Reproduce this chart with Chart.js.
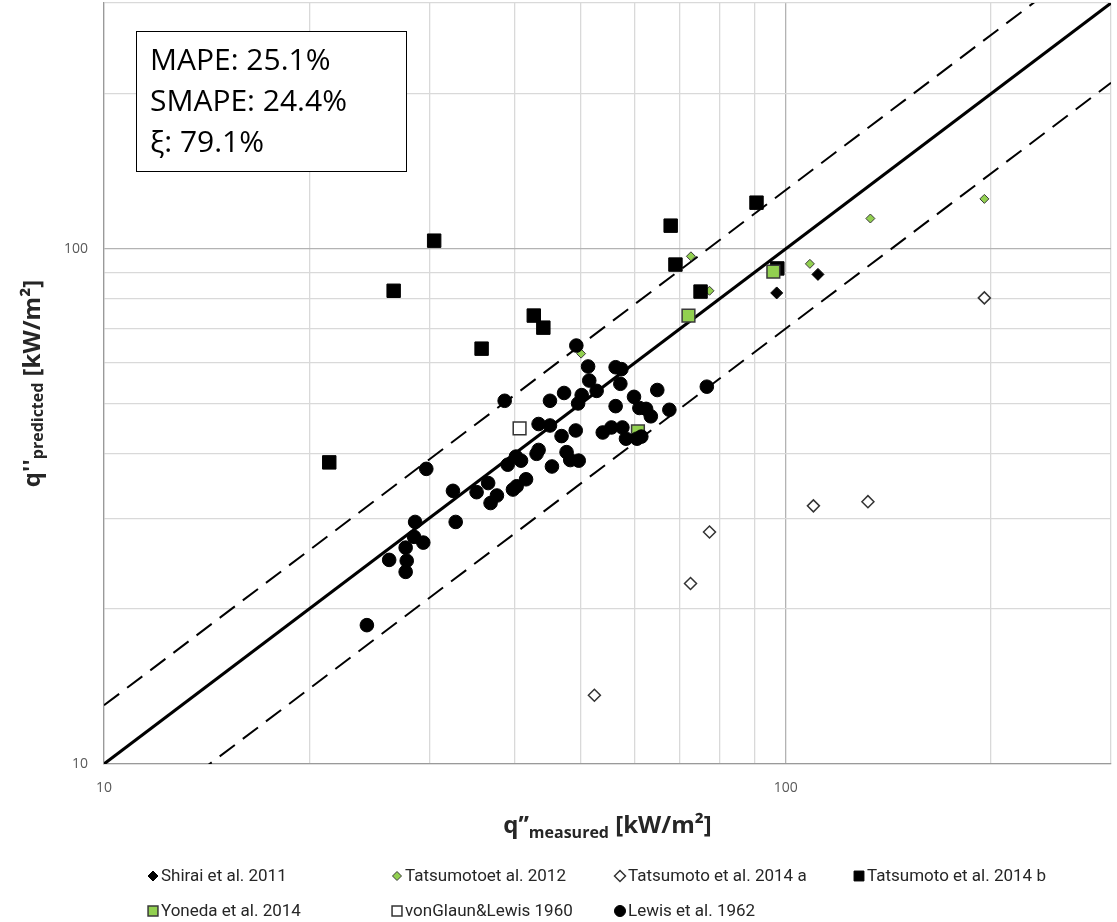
<!DOCTYPE html>
<html>
<head>
<meta charset="utf-8">
<script src="https://cdn.jsdelivr.net/npm/chart.js@4.4.0/dist/chart.umd.min.js"></script>
<style>
  html, body { margin: 0; padding: 0; background: #fff; }
  #wrap { width: 1117px; height: 922px; }
</style>
</head>
<body>
<div id="wrap"><canvas id="chart" width="1117" height="922"></canvas></div>
<script>
// measured vs predicted heat flux, kW/m2
const shiraiX = [97.0, 111.5];
const shiraiY = [82.1, 89.2];

const tats2012X = [50.1, 72.6, 77.3, 108.5, 133.1, 195.6];
const tats2012Y = [62.6, 96.7, 82.9, 93.5, 114.5, 125.0];

const tats2014aX = [52.4, 72.5, 77.3, 109.8, 132.0, 195.6];
const tats2014aY = [13.6, 22.4, 28.2, 31.7, 32.3, 80.3];

const tats2014bX = [21.4, 26.6, 30.5, 35.8, 42.7, 44.1, 67.8, 68.9, 75.0, 90.6, 97.2];
const tats2014bY = [38.5, 82.9, 103.7, 64.0, 74.2, 70.3, 110.9, 93.2, 82.6, 122.9, 91.6];

const yonedaX = [60.7, 72.0, 95.9];
const yonedaY = [44.2, 74.2, 90.3];

const vonGlaunX = [40.7];
const vonGlaunY = [44.8];

const lewisX = [49.3, 51.3, 56.3, 57.4, 51.5, 57.2, 47.3, 52.8, 64.8, 45.1,
  50.2, 49.6, 38.7, 59.9, 56.3, 61.0, 62.4, 63.4, 67.5, 76.6,
  43.4, 45.1, 46.9, 49.2, 53.9, 55.5, 57.6, 58.3, 60.5, 61.4,
  40.2, 40.9, 39.1, 43.1, 43.4, 45.4, 47.7, 48.3, 49.7,
  29.7, 32.5, 35.2, 36.6, 37.7, 36.9, 39.8, 40.3, 41.6,
  28.6, 32.8, 28.5, 29.4, 27.7, 26.2, 27.8, 27.7, 24.3];
const lewisY = [64.9, 59.1, 58.9, 58.4, 55.5, 54.7, 52.5, 53.0, 53.2, 50.7,
  52.0, 50.1, 50.7, 51.6, 49.5, 49.1, 48.9, 47.3, 48.7, 54.0,
  45.7, 45.4, 43.3, 44.4, 44.0, 45.0, 45.0, 42.8, 42.8, 43.2,
  39.5, 38.8, 38.1, 40.0, 40.7, 37.8, 40.3, 38.9, 38.8,
  37.4, 33.9, 33.7, 35.1, 33.2, 32.1, 34.1, 34.6, 35.7,
  29.5, 29.5, 27.6, 26.9, 26.3, 24.9, 24.8, 23.6, 18.6];

// perfect agreement line and +/-30% band
const diagonalX = [10, 300];
const bandFactors = [1.3, 0.7];

const tickValues = [10, 20, 30, 40, 50, 60, 70, 80, 90, 100, 200, 300];
const tickLabels = { 10: '10', 100: '100' };

const statLines = ['MAPE: 25.1%', 'SMAPE: 24.4%', 'ξ: 79.1%'];

const pts = (xs, ys) => xs.map((x, i) => ({ x: x, y: ys[i] }));

const datasets = [
  { label: 'Shirai et al. 2011', data: pts(shiraiX, shiraiY), pointStyle: 'rectRot', pointRadius: 6,
    backgroundColor: '#000', borderColor: '#000', borderWidth: 1, order: 7, legendRadius: 5 },
  { label: 'Tatsumotoet al. 2012', data: pts(tats2012X, tats2012Y), pointStyle: 'rectRot', pointRadius: 4.5,
    backgroundColor: '#92d050', borderColor: '#3a3a3a', borderWidth: 1, order: 6, legendRadius: 4.5 },
  { label: 'Tatsumoto et al. 2014 a', data: pts(tats2014aX, tats2014aY), pointStyle: 'rectRot', pointRadius: 6,
    backgroundColor: '#fff', borderColor: '#333', borderWidth: 1.5, order: 5, legendRadius: 5.5 },
  { label: 'Tatsumoto et al. 2014 b', data: pts(tats2014bX, tats2014bY), pointStyle: 'rect', pointRadius: 9.5,
    backgroundColor: '#000', borderColor: '#000', borderWidth: 1, order: 4, legendRadius: 7 },
  { label: 'Yoneda et al. 2014', data: pts(yonedaX, yonedaY), pointStyle: 'rect', pointRadius: 9,
    backgroundColor: '#92d050', borderColor: '#3a3a3a', borderWidth: 1.5, order: 3, legendRadius: 7 },
  { label: 'vonGlaun&Lewis 1960', data: pts(vonGlaunX, vonGlaunY), pointStyle: 'rect', pointRadius: 9,
    backgroundColor: '#fff', borderColor: '#333', borderWidth: 1.5, order: 2, legendRadius: 7 },
  { label: 'Lewis et al. 1962', data: pts(lewisX, lewisY), pointStyle: 'circle', pointRadius: 6.8,
    backgroundColor: '#000', borderColor: '#000', borderWidth: 1, order: 1, legendRadius: 5.5 },
  { label: 'y = x', data: diagonalX.map(x => ({ x: x, y: x })), showLine: true, pointRadius: 0,
    borderColor: '#000', borderWidth: 3, order: 10, isRef: true },
  { label: '+30%', data: diagonalX.map(x => ({ x: x, y: x * bandFactors[0] })), showLine: true, pointRadius: 0,
    borderColor: '#000', borderWidth: 2, borderDash: [19, 10], order: 9, isRef: true },
  { label: '-30%', data: diagonalX.map(x => ({ x: x, y: x * bandFactors[1] })), showLine: true, pointRadius: 0,
    borderColor: '#000', borderWidth: 2, borderDash: [19, 10], order: 8, isRef: true }
];

// draws text made of several runs (for the subscripts)
function drawRuns(ctx, runs, cx, baseY) {
  let total = 0;
  runs.forEach(r => { ctx.font = r.font; r.w = ctx.measureText(r.text).width; total += r.w; });
  let x = cx - total / 2;
  runs.forEach(r => {
    ctx.font = r.font;
    ctx.fillText(r.text, x, baseY + r.dy);
    x += r.w;
  });
}

const decorPlugin = {
  id: 'decor',
  afterDraw(chart) {
    const ctx = chart.ctx;
    const area = chart.chartArea;
    ctx.save();

    // stats box
    const bx = area.left + 32, by = area.top + 28;
    ctx.fillStyle = '#fff';
    ctx.fillRect(bx, by, 270, 140);
    ctx.strokeStyle = '#000';
    ctx.lineWidth = 1;
    ctx.strokeRect(bx + 0.5, by + 0.5, 270, 140);
    ctx.fillStyle = '#000';
    ctx.font = '30px "Open Sans"';
    ctx.textAlign = 'left';
    ctx.textBaseline = 'alphabetic';
    statLines.forEach((t, i) => ctx.fillText(t, bx + 14, by + 39 + i * 40.8));

    // axis titles
    const big = 'bold 24px "Open Sans"';
    const small = 'bold 16px "Open Sans"';
    ctx.fillStyle = '#262626';
    drawRuns(ctx, [
      { text: 'q’’', font: big, dy: 0 },
      { text: 'measured', font: small, dy: 5 },
      { text: ' [kW/m²]', font: big, dy: 0 }
    ], (area.left + area.right) / 2, 833);

    ctx.save();
    ctx.translate(40, (area.top + area.bottom) / 2);
    ctx.rotate(-Math.PI / 2);
    drawRuns(ctx, [
      { text: "q''", font: big, dy: 0 },
      { text: 'predicted', font: small, dy: 3 },
      { text: ' [kW/m²]', font: big, dy: 0 }
    ], 0, 0);
    ctx.restore();

    // legend, laid out in columns like the original
    const cols = [153, 397, 620, 859];
    const rows = [876, 911];
    ctx.font = '17px Roboto';
    ctx.textBaseline = 'middle';
    chart.data.datasets.filter(d => !d.isRef).forEach((d, i) => {
      const x = cols[i < 4 ? i : i - 4];
      const y = rows[i < 4 ? 0 : 1];
      ctx.fillStyle = d.backgroundColor;
      ctx.strokeStyle = d.borderColor;
      ctx.lineWidth = d.borderWidth;
      Chart.helpers.drawPoint(ctx, { pointStyle: d.pointStyle, radius: d.legendRadius, rotation: 0, borderWidth: d.borderWidth }, x, y);
      ctx.fillStyle = '#262626';
      ctx.fillText(d.label, x + 8, y + 1);
    });

    ctx.restore();
  }
};

// no extra room for the (empty) edge labels
function fixPadding(s) {
  s.paddingTop = 0;
  s.paddingBottom = 0;
  s.paddingLeft = 0;
  s.paddingRight = 0;
}

const axisCommon = {
  type: 'logarithmic',
  min: 10,
  max: 300,
  afterBuildTicks: axis => { axis.ticks = tickValues.map(v => ({ value: v })); },
  ticks: {
    autoSkip: false,
    maxRotation: 0,
    color: '#595959',
    font: { family: 'Open Sans', size: 14 },
    padding: 16,
    callback: v => tickLabels[v] || ''
  },
  grid: {
    color: c => (c.tick && c.tick.value === 100 ? '#b3b3b3' : '#d9d9d9'),
    lineWidth: 1.3,
    drawTicks: false
  },
  border: { color: '#9a9a9a', width: 1.3 },
  title: { display: false }
};

new Chart(document.getElementById('chart'), {
  type: 'scatter',
  data: { datasets: datasets },
  options: {
    responsive: false,
    animation: false,
    devicePixelRatio: 1,
    layout: { autoPadding: false, padding: { left: 0, right: 6, top: 3, bottom: 0 } },
    plugins: { legend: { display: false }, tooltip: { enabled: false } },
    scales: {
      x: Object.assign({}, axisCommon, { afterFit: s => { s.height = 158; fixPadding(s); } }),
      y: Object.assign({}, axisCommon, { afterFit: s => { s.width = 104; fixPadding(s); } })
    }
  },
  plugins: [decorPlugin]
});
</script>
</body>
</html>
